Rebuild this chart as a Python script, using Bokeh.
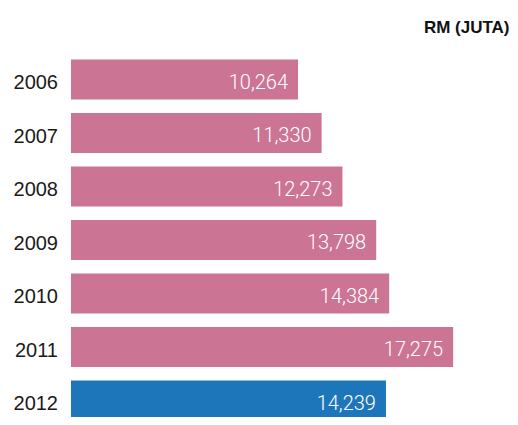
from bokeh.plotting import figure
from bokeh.models import ColumnDataSource, Range1d, Label
from bokeh.core.properties import value
from bokeh.embed import file_html
from bokeh.resources import INLINE

years = [2006, 2007, 2008, 2009, 2010, 2011, 2012]
values = [10264, 11330, 12273, 13798, 14384, 17275, 14239]
colors = ["#CC7494"] * 6 + ["#1E76BA"]
title_text = "RM (JUTA)"

src = ColumnDataSource(dict(
    year=years,
    val=values,
    color=colors,
    year_label=[str(y) for y in years],
    val_label=[f"{v:,}" for v in values],
    zero=[0] * len(years),
))

p = figure(width=510, height=417, output_backend="svg", toolbar_location=None,
           x_range=Range1d(-3187, 19869), y_range=Range1d(2012.3178, 2004.5234),
           min_border=0, outline_line_color=None)
p.axis.visible = False
p.grid.visible = False

p.hbar(y="year", right="val", left=0, height=0.748, color="color", source=src,
       line_color=None)

p.text(x="zero", y="year", text="year_label", source=src, text_align="right",
       text_baseline="middle", x_offset=-13, y_offset=3,
       text_font=value("Liberation Sans"), text_font_size="20px", text_color="#1a1a1a")

p.text(x="val", y="year", text="val_label", source=src, text_align="right",
       text_baseline="middle", x_offset=-10, y_offset=2,
       text_font=value("Roboto Light"), text_font_size="20px", text_color="#ffffff")

p.add_layout(Label(x=509, y=390, x_units="screen", y_units="screen", text=title_text,
                   text_align="right", text_baseline="middle", text_font="Liberation Sans",
                   text_font_style="bold", text_font_size="17px", text_color="#111111"))

open("out.html", "w").write(file_html(p, INLINE))
